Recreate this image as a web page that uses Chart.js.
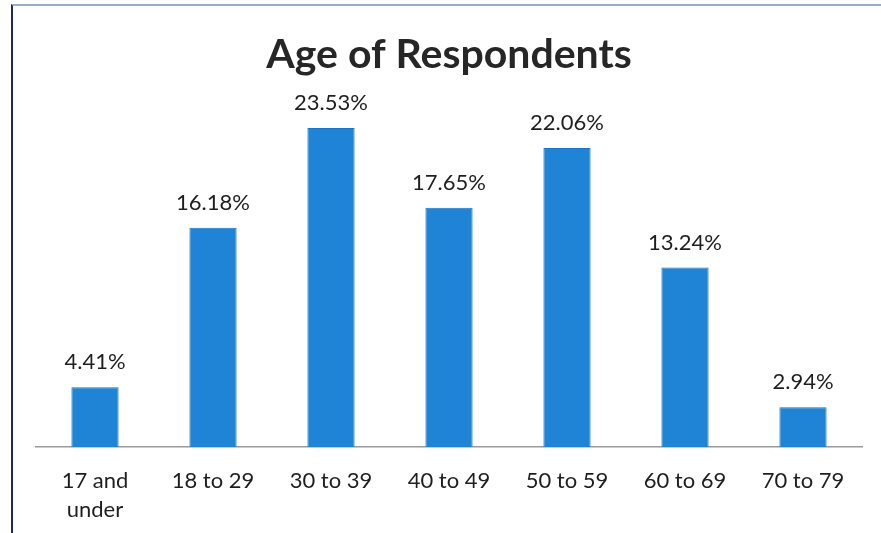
<!DOCTYPE html>
<html>
<head>
<meta charset="utf-8">
<script src="https://cdn.jsdelivr.net/npm/chart.js@4.4.1/dist/chart.umd.min.js"></script>
<style>
    html, body { margin: 0; padding: 0; background: #fff; }
    #wrap { position: relative; width: 881px; height: 533px; overflow: hidden; }
    #frame {
        position: absolute; left: 11px; top: 4px; width: 900px; height: 600px;
        border-left: 2px solid #1c2b52; border-top: 2px solid #9aaecb;
    }
    canvas { position: absolute; left: 0; top: 0; }
</style>
</head>
<body>
<div id="wrap">
    <div id="frame"></div>
    <canvas id="ageChart" width="881" height="533"></canvas>
</div>
<script>
//################# Chart data #################
const ageGroups = [['17 and', 'under'], '18 to 29', '30 to 39', '40 to 49', '50 to 59', '60 to 69', '70 to 79'];
const respondentShare = [4.41, 16.18, 23.53, 17.65, 22.06, 13.24, 2.94];
const chartTitle = 'Age of Respondents';

const fontFamily = 'Lato, "Open Sans", sans-serif';

// draws the percentage above every bar
const valueLabels = {
    id: 'valueLabels',
    afterDatasetsDraw(chart) {
        const ctx = chart.ctx;
        const meta = chart.getDatasetMeta(0);
        ctx.save();
        ctx.font = '22px ' + fontFamily;
        ctx.fillStyle = '#1e1e1e';
        ctx.textAlign = 'center';
        ctx.textBaseline = 'middle';
        meta.data.forEach((bar, i) => {
            ctx.fillText(respondentShare[i].toFixed(2) + '%', bar.x, bar.y - 25);
        });
        ctx.restore();
    }
};

const ageChart = new Chart(document.getElementById('ageChart'), {
    type: 'bar',
    data: {
        labels: ageGroups,
        datasets: [
            {
                label: 'Respondents',
                data: respondentShare,
                backgroundColor: '#1f83d6',
                borderColor: '#1a74c4',
                borderWidth: 1,
                barPercentage: 0.4,
                categoryPercentage: 1,
            },
        ],
    },
    options: {
        responsive: false,
        animation: false,
        layout: {
            padding: { left: 36, right: 19, top: 28, bottom: 6 },
        },
        plugins: {
            legend: { display: false },
            tooltip: { enabled: false },
            title: {
                display: true,
                text: chartTitle,
                color: '#262626',
                font: { family: fontFamily, size: 41, weight: 'bold' },
                padding: { top: 2, bottom: 29 },
            },
        },
        scales: {
            x: {
                grid: { display: false },
                border: { display: true, color: '#9a9a9a', width: 1.5 },
                ticks: {
                    color: '#1e1e1e',
                    font: { family: fontFamily, size: 22, lineHeight: 1.3 },
                    padding: 12,
                    maxRotation: 0,
                    autoSkip: false,
                },
                afterFit: (scale) => { scale.height = 80; },
            },
            y: {
                display: false,
                min: 0,
                max: 25,
            },
        },
    },
    plugins: [valueLabels],
});
</script>
</body>
</html>
